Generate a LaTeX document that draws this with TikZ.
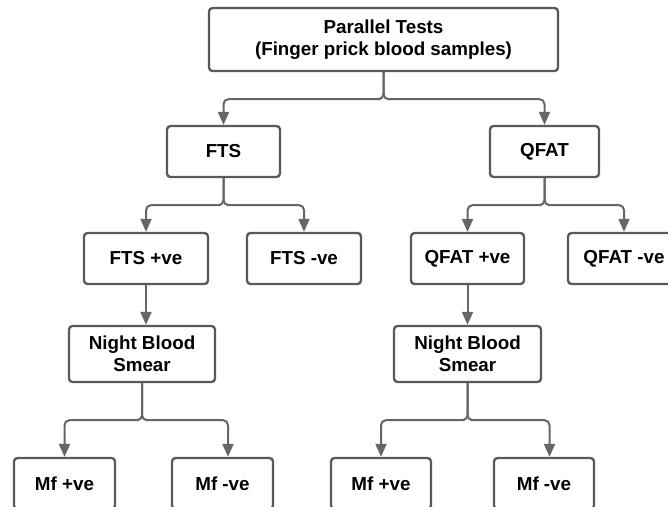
\documentclass[tikz,border=0pt]{standalone}
\usepackage{fontspec}
\setmainfont{Liberation Sans}
\usetikzlibrary{arrows.meta}
\definecolor{boxline}{HTML}{595959}
\definecolor{conline}{HTML}{666666}
\begin{document}
\begin{tikzpicture}[x=1pt,y=-1pt,
  box/.style={draw=boxline, line width=2.3pt, rounded corners=3.5pt, fill=white,
    font=\fontsize{18.8}{22.5}\selectfont\bfseries, align=center, inner sep=0pt,
    minimum height=51pt},
  conn/.style={draw=conline, line width=2pt, rounded corners=5pt,
    -{Triangle[length=13pt,width=11pt]}},
  stem/.style={draw=conline, line width=2pt}]
\clip (0,0) rectangle (668,506);
\fill[white] (0,0) rectangle (668,506);
% nodes
\node[box, minimum width=349pt, minimum height=63pt] (top) at (383.5,39.5)
  {Parallel Tests\\(Finger prick blood samples)};
\node[box, minimum width=113pt] (fts) at (223.5,151.5) {FTS};
\node[box, minimum width=109pt] (qfat) at (544.5,151.5) {QFAT};
\node[box, minimum width=124pt] (ftsp) at (146,258.5) {FTS +ve};
\node[box, minimum width=114pt] (ftsn) at (304,258.5) {FTS -ve};
\node[box, minimum width=113pt] (qfatp) at (467.5,258.5) {QFAT +ve};
\node[box, minimum width=112pt] (qfatn) at (624,258.5) {QFAT -ve};
\node[box, minimum width=146pt, minimum height=56pt] (nbsa) at (142,354) {Night Blood\\Smear};
\node[box, minimum width=147pt, minimum height=56pt] (nbsb) at (467.5,354) {Night Blood\\Smear};
\node[box, minimum width=101pt] (mfa) at (64.5,483.5) {Mf +ve};
\node[box, minimum width=101pt] (mfb) at (222.5,483.5) {Mf -ve};
\node[box, minimum width=100pt] (mfc) at (381,483.5) {Mf +ve};
\node[box, minimum width=100pt] (mfd) at (544,483.5) {Mf -ve};
% junction coordinates
\coordinate (j1) at ([yshift=-27pt]top.south);
\coordinate (j2) at ([yshift=-27pt]fts.south);
\coordinate (j3) at ([yshift=-27pt]qfat.south);
\coordinate (j4) at ([yshift=-37pt]nbsa.south);
\coordinate (j5) at ([yshift=-37pt]nbsb.south);
\coordinate (mfbin) at ([xshift=5.5pt]mfb.north);
\coordinate (mfdin) at ([xshift=5.5pt]mfd.north);
% connectors
\draw[conn] (top.south) |- ([xshift=-8pt]j1) -| (fts.north);
\draw[conn] (top.south) |- ([xshift=8pt]j1) -| (qfat.north);
\draw[conn] (fts.south) |- ([xshift=-8pt]j2) -| (ftsp.north);
\draw[conn] (fts.south) |- ([xshift=8pt]j2) -| (ftsn.north);
\draw[conn] (qfat.south) |- ([xshift=-8pt]j3) -| (qfatp.north);
\draw[conn] (qfat.south) |- ([xshift=8pt]j3) -| (qfatn.north);
\draw[conn] (ftsp.south) -- (ftsp.south |- nbsa.north);
\draw[conn] (qfatp.south) -- (qfatp.south |- nbsb.north);
\draw[conn] (nbsa.south) |- ([xshift=-8pt]j4) -| (mfa.north);
\draw[conn] (nbsa.south) |- ([xshift=8pt]j4) -| (mfbin);
\draw[conn] (nbsb.south) |- ([xshift=-8pt]j5) -| (mfc.north);
\draw[conn] (nbsb.south) |- ([xshift=8pt]j5) -| (mfdin);
\end{tikzpicture}
\end{document}
